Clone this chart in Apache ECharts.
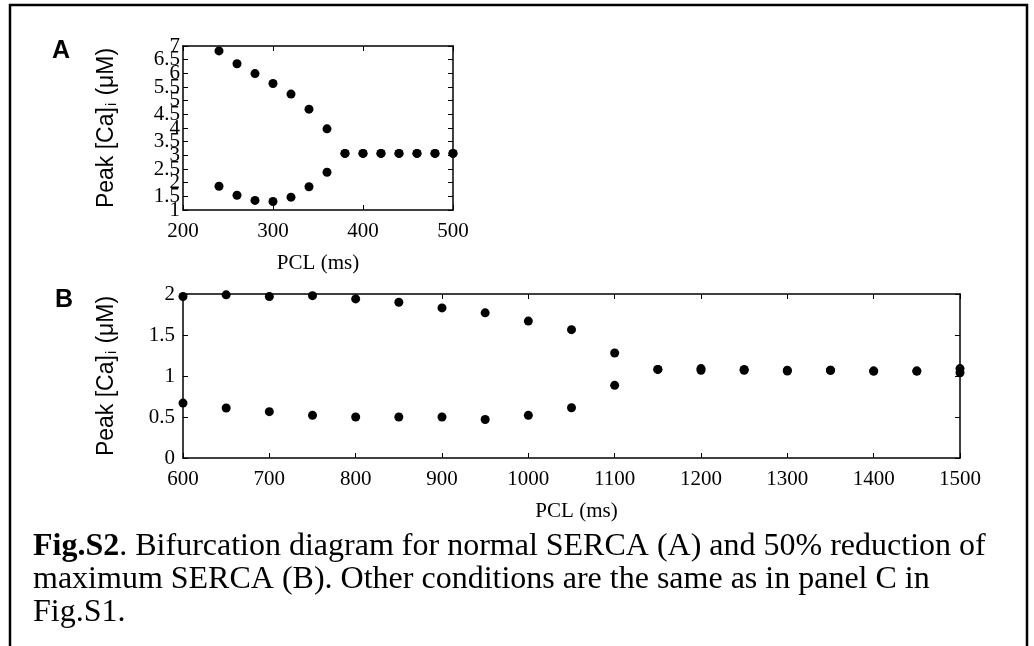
<!DOCTYPE html>
<html>
<head>
<meta charset="utf-8">
<script src="https://cdn.jsdelivr.net/npm/echarts@6/dist/echarts.min.js"></script>
<style>
  html, body { margin: 0; padding: 0; background: #fff; }
  #panel { width: 1034px; height: 646px; }
</style>
</head>
<body>
<div id="panel"></div>
<script>
// panel A: normal SERCA
var pclA = [240, 260, 280, 300, 320, 340, 360, 380, 400, 420, 440, 460, 480, 500];
var upperA = [6.82, 6.35, 5.99, 5.63, 5.24, 4.69, 3.97, 3.07, 3.07, 3.07, 3.07, 3.07, 3.07, 3.07];
var lowerA = [1.87, 1.54, 1.35, 1.31, 1.47, 1.85, 2.38, 3.07, 3.07, 3.07, 3.07, 3.07, 3.07, 3.07];
// the A tick labels are packed so tightly they overlap; split in two sets
var yTicksA = [1, 2, 3, 4, 5, 6, 7];
var yHalfTicksA = [1.5, 2.5, 3.5, 4.5, 5.5, 6.5];

// panel B: 50% reduction of max SERCA
var pclB = [600, 650, 700, 750, 800, 850, 900, 950, 1000, 1050, 1100, 1150, 1200, 1250, 1300, 1350, 1400, 1450, 1500];
var upperB = [1.97, 1.99, 1.97, 1.98, 1.94, 1.90, 1.83, 1.77, 1.67, 1.565, 1.28, 1.08, 1.09, 1.08, 1.07, 1.07, 1.06, 1.06, 1.09];
var lowerB = [0.67, 0.61, 0.565, 0.52, 0.50, 0.50, 0.50, 0.47, 0.52, 0.613, 0.886, 1.08, 1.07, 1.07, 1.06, 1.07, 1.06, 1.06, 1.04];

var captionLines = [
    '{b|Fig.S2}. Bifurcation diagram for normal SERCA (A) and 50% reduction of',
    'maximum SERCA (B). Other conditions are the same as in panel C in',
    'Fig.S1.'
];

var serif = '"Liberation Serif", "Times New Roman", serif';
var sans = '"Liberation Sans", Arial, sans-serif';

function pairs(xs, ys) {
    return xs.map(function (x, i) { return [x, ys[i]]; });
}

function plain(v) { return String(v); }

function xAxisFor(grid, min, max, main, nameShift) {
    return {
        type: 'value', gridIndex: grid, min: min, max: max, interval: 100,
        position: main ? 'bottom' : 'top',
        name: main ? 'PCL (ms)' : '',
        nameLocation: 'middle', nameGap: 43,
        nameTextStyle: { fontFamily: serif, fontSize: 21, color: '#000',
                         padding: [0, 0, 0, nameShift || 0] },
        axisLine: { show: true, onZero: false, lineStyle: { color: '#000', width: 1.5 } },
        axisTick: { show: true, inside: true, length: 5, lineStyle: { color: '#000' } },
        axisLabel: { show: main, margin: 11, fontFamily: serif, fontSize: 21, color: '#000',
                     formatter: plain, showMinLabel: true, showMaxLabel: true },
        splitLine: { show: false }
    };
}

function yAxisFor(grid, min, max, main, margin, labelValues) {
    var ax = {
        type: 'value', gridIndex: grid, min: min, max: max, interval: 0.5,
        position: main ? 'left' : 'right',
        name: main ? '{a|Peak [Ca]}{s|i}{a| (μM)}' : '',
        nameLocation: 'middle', nameGap: 64, nameRotate: 90,
        nameTextStyle: {
            color: '#000',
            rich: {
                a: { fontFamily: sans, fontSize: 23, color: '#000' },
                s: { fontFamily: sans, fontSize: 14, color: '#000', padding: [11, 1, 0, 1] }
            }
        },
        axisLine: { show: true, onZero: false, lineStyle: { color: '#000', width: 1.5 } },
        axisTick: { show: true, inside: true, length: 5, lineStyle: { color: '#000' } },
        axisLabel: { show: main, margin: margin, fontFamily: serif, fontSize: 21,
                     color: '#000', formatter: plain,
                     showMinLabel: true, showMaxLabel: true, hideOverlap: false },
        splitLine: { show: false }
    };
    if (labelValues) ax.axisLabel.customValues = labelValues;
    return ax;
}

// labels only, sitting on the same left edge as the main A axis
function extraLabelsA(values) {
    var ax = yAxisFor(0, 1, 7, true, 3, values);
    ax.name = '';
    ax.axisLine = { show: false };
    ax.axisTick = { show: false };
    return ax;
}

function dots(xi, yi, data) {
    return {
        type: 'scatter', xAxisIndex: xi, yAxisIndex: yi, data: data,
        symbol: 'circle', symbolSize: 9, clip: false,
        itemStyle: { color: '#000', opacity: 1 }, silent: true, animation: false
    };
}

var options = {
    backgroundColor: '#fff',
    animation: false,
    grid: [
        { left: 183, top: 46, width: 270, height: 164 },
        { left: 183, top: 294, width: 777, height: 164 }
    ],
    xAxis: [
        xAxisFor(0, 200, 500, true), xAxisFor(0, 200, 500, false),
        xAxisFor(1, 600, 1500, true, 10), xAxisFor(1, 600, 1500, false)
    ],
    yAxis: [
        yAxisFor(0, 1, 7, true, 3, yTicksA), yAxisFor(0, 1, 7, false, 3),
        yAxisFor(1, 0, 2, true, 8), yAxisFor(1, 0, 2, false, 8),
        extraLabelsA(yHalfTicksA)
    ],
    series: [
        dots(0, 0, pairs(pclA, upperA)),
        dots(0, 0, pairs(pclA, lowerA)),
        dots(2, 2, pairs(pclB, upperB)),
        dots(2, 2, pairs(pclB, lowerB))
    ],
    graphic: [
        { type: 'rect', shape: { x: 10, y: 5, width: 1017, height: 700 },
          style: { fill: 'none', stroke: '#000', lineWidth: 2.5 } },
        { type: 'text', x: 52, y: 39,
          style: { text: 'A', font: 'bold 25px ' + sans, fill: '#000' } },
        { type: 'text', x: 55, y: 288,
          style: { text: 'B', font: 'bold 25px ' + sans, fill: '#000' } }
    ]
};

captionLines.forEach(function (line, i) {
    options.graphic.push({
        type: 'text', x: 33, y: 531 + i * 33,
        style: {
            text: line, fill: '#000', fontFamily: serif, fontSize: 32,
            rich: { b: { fontFamily: serif, fontSize: 32, fontWeight: 'bold', fill: '#000' } }
        }
    });
});

var myChart = echarts.init(document.getElementById('panel'));
myChart.setOption(options);
</script>
</body>
</html>
